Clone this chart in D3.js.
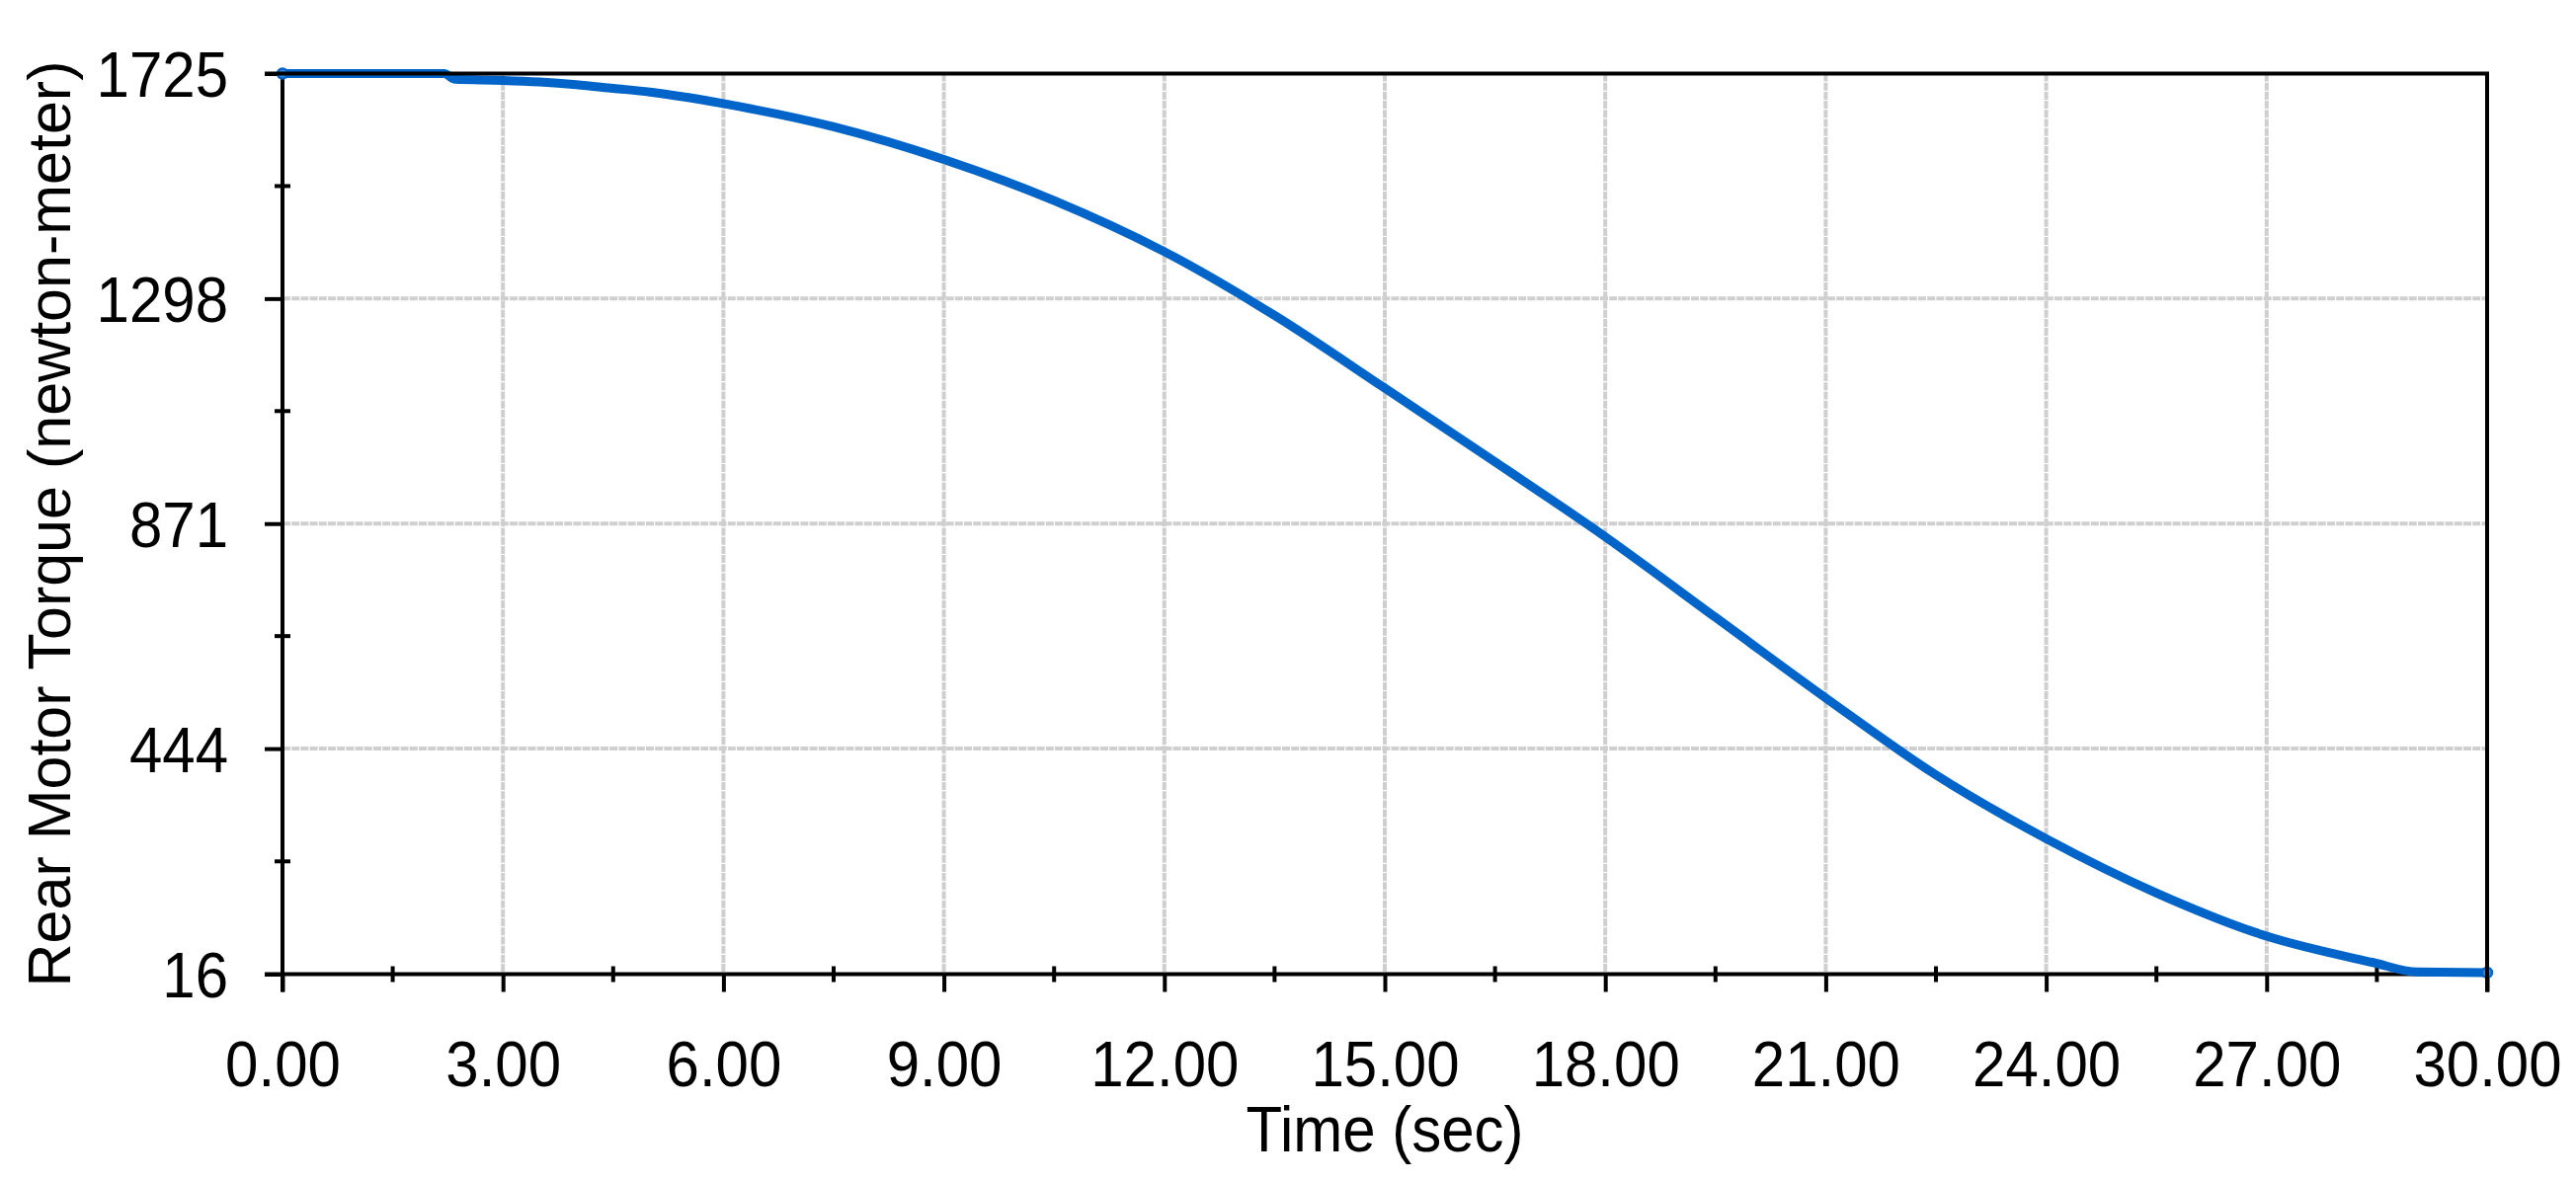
<!DOCTYPE html>
<html>
<head>
<meta charset="utf-8">
<script src="https://cdn.jsdelivr.net/npm/d3@7"></script>
<style>
  html, body { margin: 0; padding: 0; background: #fff; }
  svg { display: block; }
  text { font-family: "Liberation Sans", Arial, sans-serif; fill: #000; }
</style>
</head>
<body>
<svg id="chart" width="2608" height="1197"></svg>
<script>
// ---- data ----
const times  = [0, 2.2, 2.35, 3, 3.5, 4, 4.5, 5, 5.5, 6, 7.5, 9, 10.5, 12, 13.5, 15, 16.5, 18, 19.5, 21, 22.5, 24, 25.5, 27, 28.45, 29.05, 30];
const torque = [1725, 1725, 1714, 1712, 1709, 1704, 1697, 1690, 1680, 1668, 1624, 1562, 1484, 1387, 1266, 1128, 988, 846, 693, 540, 394, 273, 170, 88, 38, 20, 19];
const xTicks = [0, 3, 6, 9, 12, 15, 18, 21, 24, 27, 30];
const yTicks = [16, 444, 871, 1298, 1725];
const xTitle = "Time (sec)";
const yTitle = "Rear Motor Torque (newton-meter)";

// ---- layout ----
const L = 286, R = 2518, T = 74.5, B = 986.5;
const svg = d3.select("#chart");
const x = d3.scaleLinear().domain([0, 30]).range([L, R]);
const y = d3.scaleLinear().domain([16, 1725]).range([B, T]);
const FS = 60, SY = 1.08;

const xMinor = xTicks.slice(0, -1).map((d, i) => (d + xTicks[i + 1]) / 2);
const yMinor = yTicks.slice(0, -1).map((d, i) => (d + yTicks[i + 1]) / 2);

// gridlines
const grid = svg.append("g").attr("stroke", "#cfcfcf").attr("stroke-width", 4).attr("stroke-dasharray", "8,1.2");
grid.selectAll("line.vx").data(xTicks.slice(1, -1)).join("line")
  .attr("x1", d => x(d)).attr("x2", d => x(d)).attr("y1", T).attr("y2", B);
grid.selectAll("line.hy").data(yTicks.slice(1, -1)).join("line")
  .attr("x1", L).attr("x2", R).attr("y1", d => y(d)).attr("y2", d => y(d));

// axes
const xAxis = svg.append("g").attr("transform", `translate(0,${B})`)
  .call(d3.axisBottom(x).tickValues(xTicks).tickSize(18).tickSizeOuter(0).tickFormat(d3.format(".2f")));
const yAxis = svg.append("g").attr("transform", `translate(${L},0)`)
  .call(d3.axisLeft(y).tickValues(yTicks).tickSize(18).tickSizeOuter(0).tickFormat(d3.format("d")));
[xAxis, yAxis].forEach(g => {
  g.select(".domain").remove();
  g.selectAll(".tick line").attr("stroke", "#000").attr("stroke-width", 4);
  g.selectAll(".tick text").attr("font-size", FS).attr("font-family", "Liberation Sans, Arial, sans-serif")
    .attr("transform", `scale(1,${SY})`);
});
xAxis.selectAll(".tick text").attr("y", 113.5 / SY).attr("dy", 0);
yAxis.selectAll(".tick text").attr("x", -55).attr("dy", "0.36em");

// minor ticks (crossing)
const minor = svg.append("g").attr("stroke", "#000").attr("stroke-width", 4);
minor.selectAll("line.mx").data(xMinor).join("line")
  .attr("x1", d => x(d)).attr("x2", d => x(d)).attr("y1", B - 8).attr("y2", B + 8);
minor.selectAll("line.my").data(yMinor).join("line")
  .attr("x1", L - 8).attr("x2", L + 8).attr("y1", d => y(d)).attr("y2", d => y(d));

// left & bottom axis lines
svg.append("line").attr("x1", L).attr("x2", L).attr("y1", T).attr("y2", B + 18).attr("stroke", "#000").attr("stroke-width", 4);
svg.append("line").attr("x1", L - 18).attr("x2", R).attr("y1", B).attr("y2", B).attr("stroke", "#000").attr("stroke-width", 4);

// curve
const pts = times.map((t, i) => [t, torque[i]]);
const line = d3.line().x(d => x(d[0])).y(d => y(d[1])).curve(d3.curveMonotoneX);
svg.append("path").datum(pts).attr("d", line)
  .attr("fill", "none").attr("stroke", "#0064c8").attr("stroke-width", 9)
  .attr("stroke-linejoin", "round").attr("stroke-linecap", "round");
svg.selectAll("circle.end").data([pts[0], pts[pts.length - 1]]).join("circle")
  .attr("cx", d => x(d[0])).attr("cy", d => y(d[1])).attr("r", 5)
  .attr("fill", "#3b8ad8").attr("stroke", "#0064c8").attr("stroke-width", 2.5);

// top & right frame lines
svg.append("line").attr("x1", L - 18).attr("x2", R + 2).attr("y1", T).attr("y2", T).attr("stroke", "#000").attr("stroke-width", 4);
svg.append("line").attr("x1", R).attr("x2", R).attr("y1", T).attr("y2", B + 18).attr("stroke", "#000").attr("stroke-width", 4);

// titles
svg.append("text").attr("transform", `translate(${(L + R) / 2},1166) scale(1,${SY})`).attr("text-anchor", "middle")
  .attr("font-size", FS).text(xTitle);
svg.append("text").attr("transform", `translate(71,${(T + B) / 2}) rotate(-90)`)
  .attr("text-anchor", "middle").attr("font-size", 61).text(yTitle);
</script>
</body>
</html>
